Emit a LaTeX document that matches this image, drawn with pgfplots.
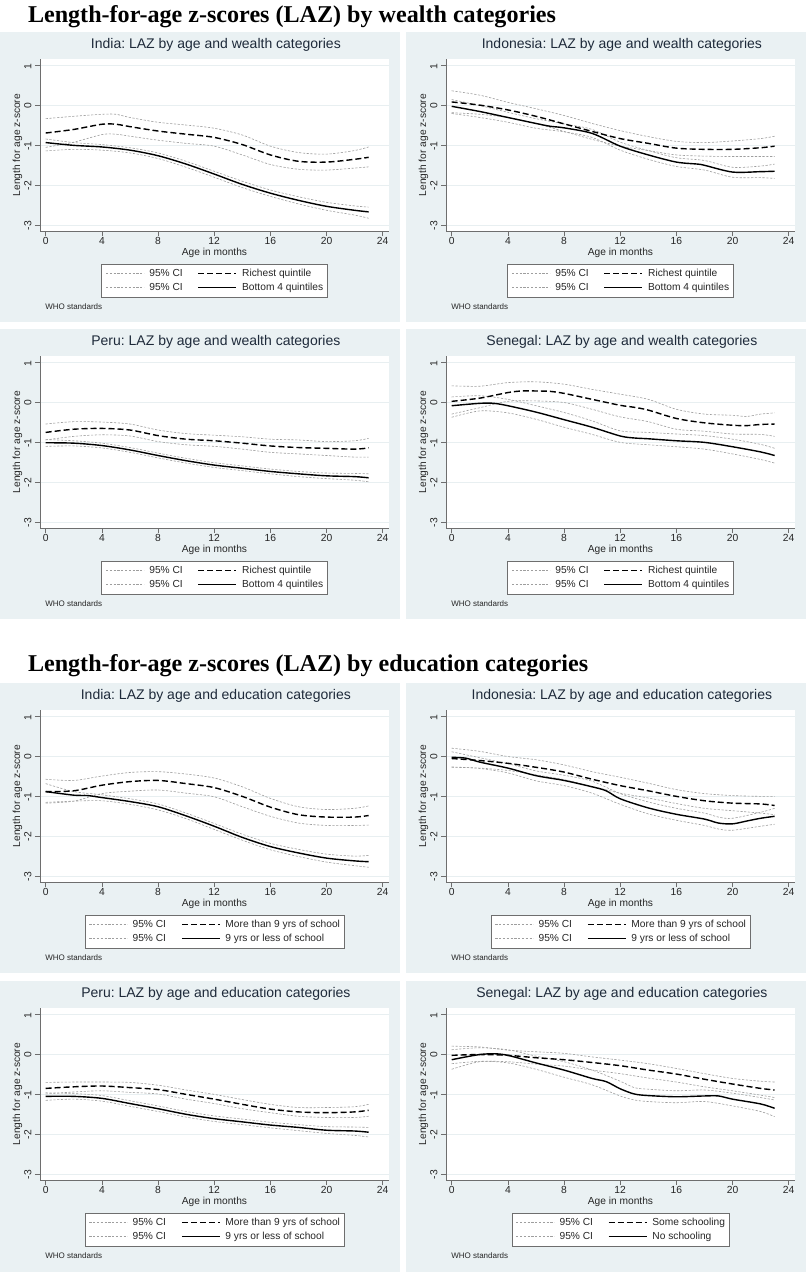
\documentclass[border=0pt]{standalone}
\usepackage{fontspec}
\setmainfont{Liberation Sans}
\newfontfamily\headfont{Liberation Serif}
\usepackage{pgfplots}
\pgfplotsset{compat=1.18}
\frenchspacing
\definecolor{bgc}{RGB}{234,241,243}
\definecolor{gridc}{RGB}{232,239,241}
\definecolor{titlec}{RGB}{30,42,58}
\definecolor{axc}{RGB}{110,110,110}
\tikzset{who/.style={anchor=base west, font=\fontsize{8}{9}\selectfont, text=black!85}}
\pgfplotsset{
  ci/.style={color=black!38, line width=0.6pt, dash pattern=on 2.2pt off 1.6pt, smooth},
  rich/.style={black, line width=1.4pt, dash pattern=on 6pt off 3pt, smooth},
  poor/.style={black, line width=1.4pt, smooth},
  panel/.style={
    scale only axis, width=349pt, height=172pt, anchor=north west,
    xmin=-0.406, xmax=24.45, ymin=-3.15, ymax=1.168,
    axis x line*=bottom, axis y line*=left,
    axis line style={axc, line width=0.7pt, -},
    xtick={0,4,8,12,16,20,24}, ytick={-3,-2,-1,0,1},
    tick align=outside, major tick length=5pt,
    tick style={axc, line width=0.5pt},
    ymajorgrids, grid style={gridc, line width=0.9pt},
    axis background/.style={fill=white},
    tick label style={font=\fontsize{10.3}{11}\selectfont, text=black!85},
    xticklabel style={inner ysep=1.5pt},
    yticklabel style={rotate=90, anchor=south, xshift=-0.5pt},
    /pgf/number format/assume math mode=true,
    xlabel={Age in months}, ylabel={Length for age z-score},
    label style={font=\fontsize{10.2}{12}\selectfont, text=black!85},
    xlabel style={at={(axis description cs:0.5,-0.142)}, anchor=base},
    ylabel style={at={(axis description cs:-0.0645,0.5)}, anchor=center},
    title style={at={(axis description cs:0.504,1.029)}, anchor=base, font=\fontsize{14}{16}\selectfont, text=titlec},
    legend columns=2, legend cell align=left,
    legend style={at={(axis description cs:0.5,-0.1919)}, anchor=north, draw=axc, fill=white, line width=0.5pt,
      font=\fontsize{10.2}{12}\selectfont, text=black!85, inner xsep=4pt, inner ysep=4.6pt,
      nodes={inner sep=0pt, text height=7.5pt, text depth=2.2pt},
      column sep=5pt, /tikz/every even column/.append style={column sep=15pt}, row sep=4.3pt},
    legend image code/.code={\draw[#1] (0pt,0pt) -- (38pt,0pt);},
    clip mode=individual,
  },
}
\begin{document}
\begin{tikzpicture}
\path[use as bounding box, fill=white] (0pt,0pt) rectangle (807pt,-1272pt);
\fill[bgc] (0pt,-32pt) rectangle (400pt,-322pt);
\fill[bgc] (406pt,-32pt) rectangle (806pt,-322pt);
\fill[bgc] (0pt,-329pt) rectangle (400pt,-619pt);
\fill[bgc] (406pt,-329pt) rectangle (806pt,-619pt);
\fill[bgc] (0pt,-683pt) rectangle (400pt,-973pt);
\fill[bgc] (406pt,-683pt) rectangle (806pt,-973pt);
\fill[bgc] (0pt,-981pt) rectangle (400pt,-1272pt);
\fill[bgc] (406pt,-981pt) rectangle (806pt,-1272pt);
\node[anchor=base west, inner sep=0pt, font=\headfont\bfseries\fontsize{24.1}{28}\selectfont] at (27.8pt,-22.7pt) {Length-for-age z-scores (LAZ) by wealth categories};
\node[anchor=base west, inner sep=0pt, font=\headfont\bfseries\fontsize{24.1}{28}\selectfont] at (27.8pt,-671.3pt) {Length-for-age z-scores (LAZ) by education categories};

% ---------- India wealth
\begin{axis}[panel, at={(40pt,-59pt)}, title={India: LAZ by age and wealth categories}]
\addlegendimage{ci}\addlegendentry{95\% CI}
\addlegendimage{rich}\addlegendentry{Richest quintile}
\addlegendimage{ci}\addlegendentry{95\% CI}
\addlegendimage{poor}\addlegendentry{Bottom 4 quintiles}
\addplot[ci, forget plot] coordinates {(0,-0.33)(2,-0.27)(4,-0.22)(5,-0.22)(6,-0.3)(8,-0.42)(10,-0.49)(12,-0.57)(14,-0.74)(16,-1.02)(18,-1.18)(20,-1.22)(22,-1.13)(23,-1.04)};
\addplot[ci, forget plot] coordinates {(0,-1.05)(2,-0.92)(4,-0.73)(5,-0.72)(6,-0.77)(8,-0.87)(10,-0.95)(12,-1.02)(14,-1.24)(16,-1.48)(18,-1.6)(20,-1.62)(22,-1.57)(23,-1.54)};
\addplot[ci, forget plot] coordinates {(0,-0.84)(2,-0.93)(4,-0.98)(6,-1.06)(8,-1.19)(10,-1.4)(12,-1.65)(14,-1.9)(16,-2.12)(18,-2.29)(20,-2.43)(22,-2.52)(23,-2.55)};
\addplot[ci, forget plot] coordinates {(0,-1.14)(2,-1.1)(4,-1.12)(6,-1.19)(8,-1.33)(10,-1.55)(12,-1.8)(14,-2.06)(16,-2.28)(18,-2.47)(20,-2.63)(22,-2.75)(23,-2.83)};
\addplot[rich, forget plot] coordinates {(0,-0.69)(2,-0.6)(4,-0.47)(5,-0.47)(6,-0.53)(8,-0.64)(10,-0.72)(12,-0.8)(14,-0.98)(16,-1.24)(18,-1.4)(20,-1.42)(22,-1.35)(23,-1.3)};
\addplot[poor, forget plot] coordinates {(0,-0.93)(2,-1.0)(4,-1.04)(6,-1.12)(8,-1.26)(10,-1.47)(12,-1.72)(14,-1.98)(16,-2.2)(18,-2.38)(20,-2.53)(22,-2.63)(23,-2.67)};
\node[who] at (axis description cs:0.005,-0.4535) {WHO standards};
\end{axis}

% ---------- Indonesia wealth
\begin{axis}[panel, at={(446pt,-59pt)}, title={Indonesia: LAZ by age and wealth categories}]
\addlegendimage{ci}\addlegendentry{95\% CI}
\addlegendimage{rich}\addlegendentry{Richest quintile}
\addlegendimage{ci}\addlegendentry{95\% CI}
\addlegendimage{poor}\addlegendentry{Bottom 4 quintiles}
\addplot[ci, forget plot] coordinates {(0,0.37)(2,0.26)(4,0.08)(6,-0.08)(8,-0.25)(10,-0.45)(12,-0.63)(14,-0.78)(16,-0.9)(18,-0.93)(20,-0.89)(22,-0.83)(23,-0.77)};
\addplot[ci, forget plot] coordinates {(0,-0.18)(2,-0.22)(4,-0.3)(6,-0.45)(8,-0.65)(10,-0.85)(12,-1.02)(14,-1.13)(16,-1.24)(18,-1.27)(20,-1.28)(22,-1.28)(23,-1.28)};
\addplot[ci, forget plot] coordinates {(0,0.15)(2,0.0)(4,-0.17)(6,-0.33)(8,-0.46)(10,-0.6)(12,-0.92)(14,-1.13)(16,-1.31)(18,-1.38)(20,-1.55)(22,-1.52)(23,-1.47)};
\addplot[ci, forget plot] coordinates {(0,-0.2)(2,-0.3)(4,-0.42)(6,-0.57)(8,-0.66)(10,-0.8)(12,-1.12)(14,-1.35)(16,-1.53)(18,-1.62)(20,-1.8)(22,-1.81)(23,-1.83)};
\addplot[rich, forget plot] coordinates {(0,0.09)(2,0.01)(4,-0.11)(6,-0.27)(8,-0.46)(10,-0.65)(12,-0.83)(14,-0.95)(16,-1.07)(18,-1.1)(20,-1.1)(22,-1.06)(23,-1.02)};
\addplot[poor, forget plot] coordinates {(0,-0.02)(2,-0.15)(4,-0.3)(6,-0.45)(7,-0.52)(8,-0.56)(10,-0.7)(12,-1.02)(14,-1.24)(16,-1.42)(17.5,-1.47)(18,-1.5)(20,-1.67)(22,-1.66)(23,-1.65)};
\node[who] at (axis description cs:0.005,-0.4535) {WHO standards};
\end{axis}

% ---------- Peru wealth
\begin{axis}[panel, at={(40pt,-356pt)}, title={Peru: LAZ by age and wealth categories}]
\addlegendimage{ci}\addlegendentry{95\% CI}
\addlegendimage{rich}\addlegendentry{Richest quintile}
\addlegendimage{ci}\addlegendentry{95\% CI}
\addlegendimage{poor}\addlegendentry{Bottom 4 quintiles}
\addplot[ci, forget plot] coordinates {(0,-0.54)(2,-0.48)(4,-0.49)(6,-0.54)(8,-0.69)(10,-0.78)(12,-0.82)(14,-0.86)(16,-0.92)(18,-0.94)(20,-0.98)(22,-0.96)(23,-0.9)};
\addplot[ci, forget plot] coordinates {(0,-0.94)(2,-0.85)(4,-0.81)(6,-0.84)(8,-0.98)(10,-1.06)(12,-1.1)(14,-1.17)(16,-1.25)(18,-1.29)(20,-1.33)(22,-1.37)(23,-1.37)};
\addplot[ci, forget plot] coordinates {(0,-0.93)(2,-0.96)(4,-1.02)(6,-1.13)(8,-1.27)(10,-1.4)(12,-1.51)(14,-1.59)(16,-1.67)(18,-1.73)(20,-1.77)(22,-1.78)(23,-1.79)};
\addplot[ci, forget plot] coordinates {(0,-1.1)(2,-1.09)(4,-1.14)(6,-1.25)(8,-1.39)(10,-1.52)(12,-1.63)(14,-1.71)(16,-1.79)(18,-1.86)(20,-1.91)(22,-1.95)(23,-1.99)};
\addplot[rich, forget plot] coordinates {(0,-0.75)(2,-0.67)(4,-0.65)(6,-0.69)(8,-0.83)(10,-0.92)(12,-0.96)(14,-1.02)(16,-1.09)(18,-1.13)(20,-1.15)(22,-1.17)(23,-1.14)};
\addplot[poor, forget plot] coordinates {(0,-1.01)(2,-1.02)(4,-1.08)(6,-1.19)(8,-1.33)(10,-1.46)(12,-1.57)(14,-1.65)(16,-1.73)(18,-1.79)(20,-1.84)(22,-1.86)(23,-1.89)};
\node[who] at (axis description cs:0.005,-0.4535) {WHO standards};
\end{axis}

% ---------- Senegal wealth
\begin{axis}[panel, at={(446pt,-356pt)}, title={Senegal: LAZ by age and wealth categories}]
\addlegendimage{ci}\addlegendentry{95\% CI}
\addlegendimage{rich}\addlegendentry{Richest quintile}
\addlegendimage{ci}\addlegendentry{95\% CI}
\addlegendimage{poor}\addlegendentry{Bottom 4 quintiles}
\addplot[ci, forget plot] coordinates {(0,0.42)(2,0.41)(4,0.5)(6,0.52)(8,0.46)(10,0.33)(12,0.21)(14,0.08)(16,-0.17)(18,-0.29)(20,-0.32)(21,-0.35)(22,-0.29)(23,-0.26)};
\addplot[ci, forget plot] coordinates {(0,-0.29)(2,-0.13)(4,0.03)(6,0.04)(8,0.0)(10,-0.17)(12,-0.36)(14,-0.48)(16,-0.67)(18,-0.72)(20,-0.79)(22,-0.8)(23,-0.85)};
\addplot[ci, forget plot] coordinates {(0,0.14)(2,0.17)(4,0.08)(6,-0.08)(8,-0.25)(10,-0.46)(12,-0.71)(14,-0.75)(16,-0.79)(18,-0.83)(20,-0.92)(22,-1.05)(23,-1.15)};
\addplot[ci, forget plot] coordinates {(0,-0.37)(2,-0.21)(4,-0.26)(6,-0.42)(8,-0.62)(10,-0.8)(12,-1.0)(14,-1.06)(16,-1.11)(18,-1.17)(20,-1.29)(22,-1.43)(23,-1.52)};
\addplot[rich, forget plot] coordinates {(0,0.03)(2,0.11)(4,0.25)(5,0.29)(6,0.29)(7,0.28)(8,0.23)(10,0.08)(12,-0.07)(13,-0.12)(14,-0.19)(16,-0.4)(18,-0.51)(20,-0.57)(21,-0.58)(22,-0.55)(23,-0.54)};
\addplot[poor, forget plot] coordinates {(0,-0.08)(2,-0.02)(3,-0.02)(4,-0.08)(6,-0.24)(8,-0.43)(10,-0.62)(12,-0.84)(13,-0.89)(14,-0.91)(16,-0.96)(18,-1.0)(20,-1.11)(22,-1.24)(23,-1.33)};
\node[who] at (axis description cs:0.005,-0.4535) {WHO standards};
\end{axis}

% ---------- India education
\begin{axis}[panel, at={(40pt,-710pt)}, title={India: LAZ by age and education categories}]
\addlegendimage{ci}\addlegendentry{95\% CI}
\addlegendimage{rich}\addlegendentry{More than 9 yrs of school}
\addlegendimage{ci}\addlegendentry{95\% CI}
\addlegendimage{poor}\addlegendentry{9 yrs or less of school}
\addplot[ci, forget plot] coordinates {(0,-0.57)(2,-0.6)(4,-0.49)(6,-0.4)(8,-0.38)(10,-0.44)(12,-0.54)(14,-0.76)(16,-1.05)(18,-1.26)(20,-1.33)(22,-1.3)(23,-1.24)};
\addplot[ci, forget plot] coordinates {(0,-1.17)(2,-1.12)(4,-0.93)(6,-0.87)(8,-0.84)(10,-0.92)(12,-1.01)(14,-1.26)(16,-1.5)(18,-1.67)(20,-1.73)(22,-1.73)(23,-1.72)};
\addplot[ci, forget plot] coordinates {(0,-0.68)(2,-0.88)(4,-0.96)(6,-1.06)(8,-1.19)(10,-1.42)(12,-1.68)(14,-1.95)(16,-2.18)(18,-2.33)(20,-2.45)(22,-2.5)(23,-2.48)};
\addplot[ci, forget plot] coordinates {(0,-1.15)(2,-1.12)(4,-1.11)(6,-1.2)(8,-1.34)(10,-1.56)(12,-1.83)(14,-2.1)(16,-2.34)(18,-2.51)(20,-2.65)(22,-2.74)(23,-2.78)};
\addplot[rich, forget plot] coordinates {(0,-0.88)(2,-0.86)(4,-0.72)(6,-0.63)(8,-0.6)(10,-0.68)(12,-0.78)(14,-1.0)(16,-1.27)(18,-1.46)(20,-1.52)(22,-1.52)(23,-1.48)};
\addplot[poor, forget plot] coordinates {(0,-0.88)(2,-0.97)(3,-0.98)(4,-1.03)(6,-1.13)(8,-1.26)(10,-1.49)(12,-1.75)(14,-2.03)(16,-2.26)(18,-2.42)(20,-2.55)(22,-2.62)(23,-2.64)};
\node[who] at (axis description cs:0.005,-0.4535) {WHO standards};
\end{axis}

% ---------- Indonesia education
\begin{axis}[panel, at={(446pt,-710pt)}, title={Indonesia: LAZ by age and education categories}]
\addlegendimage{ci}\addlegendentry{95\% CI}
\addlegendimage{rich}\addlegendentry{More than 9 yrs of school}
\addlegendimage{ci}\addlegendentry{95\% CI}
\addlegendimage{poor}\addlegendentry{9 yrs or less of school}
\addplot[ci, forget plot] coordinates {(0,0.21)(2,0.13)(4,0.0)(6,-0.08)(8,-0.21)(10,-0.38)(12,-0.52)(14,-0.67)(16,-0.83)(18,-0.93)(20,-0.98)(22,-1.0)(23,-1.0)};
\addplot[ci, forget plot] coordinates {(0,-0.27)(2,-0.29)(4,-0.35)(6,-0.46)(8,-0.58)(10,-0.75)(12,-0.92)(14,-1.04)(16,-1.18)(18,-1.3)(20,-1.36)(22,-1.42)(23,-1.46)};
\addplot[ci, forget plot] coordinates {(0,0.12)(2,-0.03)(4,-0.18)(6,-0.36)(8,-0.47)(10,-0.62)(12,-0.93)(14,-1.14)(16,-1.3)(18,-1.42)(19,-1.52)(20,-1.55)(22,-1.4)(23,-1.3)};
\addplot[ci, forget plot] coordinates {(0,-0.26)(2,-0.3)(4,-0.41)(6,-0.61)(8,-0.73)(10,-0.92)(12,-1.2)(14,-1.44)(16,-1.6)(18,-1.73)(19,-1.82)(20,-1.85)(22,-1.75)(23,-1.7)};
\addplot[rich, forget plot] coordinates {(0,-0.05)(2,-0.1)(4,-0.17)(6,-0.27)(8,-0.39)(10,-0.57)(12,-0.73)(14,-0.86)(16,-1.0)(18,-1.11)(20,-1.17)(22,-1.19)(23,-1.23)};
\addplot[poor, forget plot] coordinates {(0,-0.02)(1,-0.04)(2,-0.14)(4,-0.29)(6,-0.48)(8,-0.6)(10,-0.76)(11,-0.86)(12,-1.06)(14,-1.29)(16,-1.45)(18,-1.57)(19,-1.67)(20,-1.69)(21,-1.62)(22,-1.55)(23,-1.5)};
\node[who] at (axis description cs:0.005,-0.4535) {WHO standards};
\end{axis}

% ---------- Peru education
\begin{axis}[panel, at={(40pt,-1008pt)}, title={Peru: LAZ by age and education categories}]
\addlegendimage{ci}\addlegendentry{95\% CI}
\addlegendimage{rich}\addlegendentry{More than 9 yrs of school}
\addlegendimage{ci}\addlegendentry{95\% CI}
\addlegendimage{poor}\addlegendentry{9 yrs or less of school}
\addplot[ci, forget plot] coordinates {(0,-0.7)(2,-0.69)(4,-0.69)(6,-0.7)(8,-0.77)(10,-0.89)(12,-1.0)(14,-1.13)(16,-1.25)(18,-1.33)(20,-1.33)(22,-1.31)(23,-1.25)};
\addplot[ci, forget plot] coordinates {(0,-0.99)(2,-0.94)(4,-0.91)(6,-0.95)(8,-0.99)(10,-1.12)(12,-1.23)(14,-1.36)(16,-1.46)(18,-1.55)(20,-1.58)(22,-1.58)(23,-1.55)};
\addplot[ci, forget plot] coordinates {(0,-0.96)(2,-0.98)(4,-1.03)(6,-1.16)(8,-1.29)(10,-1.43)(12,-1.54)(14,-1.62)(16,-1.7)(18,-1.76)(20,-1.81)(22,-1.82)(23,-1.83)};
\addplot[ci, forget plot] coordinates {(0,-1.15)(2,-1.12)(4,-1.17)(6,-1.3)(8,-1.43)(10,-1.57)(12,-1.68)(14,-1.76)(16,-1.84)(18,-1.91)(20,-1.98)(22,-2.03)(23,-2.07)};
\addplot[rich, forget plot] coordinates {(0,-0.85)(2,-0.81)(4,-0.79)(6,-0.83)(8,-0.88)(10,-1.0)(12,-1.12)(14,-1.25)(16,-1.37)(18,-1.44)(20,-1.46)(22,-1.44)(23,-1.4)};
\addplot[poor, forget plot] coordinates {(0,-1.05)(2,-1.05)(4,-1.1)(6,-1.23)(8,-1.36)(10,-1.5)(12,-1.61)(14,-1.69)(16,-1.77)(18,-1.83)(20,-1.9)(22,-1.92)(23,-1.95)};
\node[who] at (axis description cs:0.005,-0.4535) {WHO standards};
\end{axis}

% ---------- Senegal education
\begin{axis}[panel, at={(446pt,-1008pt)}, title={Senegal: LAZ by age and education categories}]
\addlegendimage{ci}\addlegendentry{95\% CI}
\addlegendimage{rich}\addlegendentry{Some schooling}
\addlegendimage{ci}\addlegendentry{95\% CI}
\addlegendimage{poor}\addlegendentry{No schooling}
\addplot[ci, forget plot] coordinates {(0,0.21)(2,0.19)(4,0.11)(6,0.07)(8,0.03)(10,-0.06)(12,-0.14)(14,-0.23)(16,-0.35)(18,-0.48)(20,-0.6)(22,-0.67)(23,-0.69)};
\addplot[ci, forget plot] coordinates {(0,-0.23)(2,-0.17)(4,-0.18)(6,-0.24)(8,-0.29)(10,-0.39)(12,-0.48)(14,-0.59)(16,-0.69)(18,-0.81)(20,-0.91)(22,-1.02)(23,-1.08)};
\addplot[ci, forget plot] coordinates {(0,0.12)(2,0.17)(4,0.12)(6,-0.04)(8,-0.18)(10,-0.39)(12,-0.67)(13,-0.83)(14,-0.87)(16,-0.91)(18,-0.89)(20,-0.97)(22,-1.08)(23,-1.14)};
\addplot[ci, forget plot] coordinates {(0,-0.37)(2,-0.18)(4,-0.21)(6,-0.37)(8,-0.57)(10,-0.76)(12,-1.04)(13,-1.14)(14,-1.18)(16,-1.21)(18,-1.18)(20,-1.29)(22,-1.43)(23,-1.56)};
\addplot[rich, forget plot] coordinates {(0,-0.02)(2,0.0)(4,-0.02)(6,-0.08)(8,-0.13)(10,-0.2)(12,-0.28)(14,-0.39)(16,-0.49)(18,-0.62)(20,-0.74)(22,-0.85)(23,-0.89)};
\addplot[poor, forget plot] coordinates {(0,-0.13)(1,-0.06)(2,0.0)(3,0.02)(4,-0.02)(6,-0.21)(8,-0.39)(10,-0.6)(11,-0.68)(12,-0.86)(13,-0.99)(14,-1.03)(16,-1.06)(18,-1.04)(19,-1.04)(20,-1.12)(22,-1.24)(23,-1.35)};
\node[who] at (axis description cs:0.005,-0.4535) {WHO standards};
\end{axis}
\end{tikzpicture}
\end{document}
